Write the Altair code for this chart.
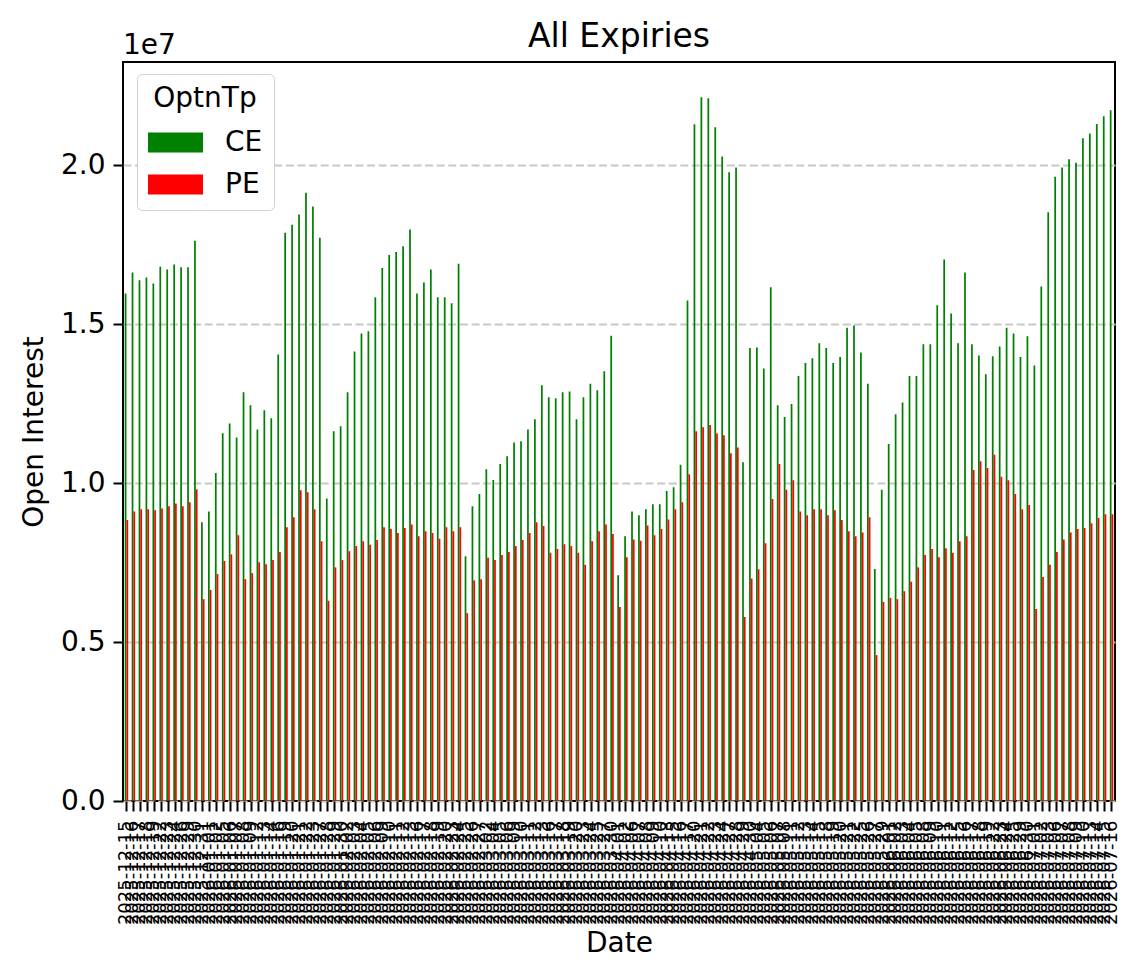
import altair as alt
import pandas as pd

# Trading dates (categories), day numbers per month
dec25 = [15, 16, 17, 18, 19, 22, 23, 24, 26, 29, 30, 31]
jan26 = [1, 2, 5, 6, 7, 8, 9, 12, 13, 14, 16, 19, 20, 21, 22, 23, 27, 28, 29, 30]
feb26 = [2, 3, 4, 5, 6, 9, 10, 11, 12, 13, 16, 17, 18, 19, 20, 23, 24, 25, 26, 27]
mar26 = [2, 4, 5, 6, 9, 10, 11, 12, 13, 16, 17, 18, 19, 20, 23, 24, 25, 27, 30]
apr26 = [1, 2, 6, 7, 8, 9, 10, 13, 15, 16, 17, 20, 21, 22, 23, 24, 27, 28, 29, 30]
may26 = [4, 5, 6, 7, 8, 11, 12, 13, 14, 15, 18, 19, 20, 21, 22, 25, 26, 27, 29]
jun26 = [1, 2, 3, 4, 5, 8, 9, 10, 11, 12, 15, 16, 17, 18, 19, 22, 23, 24, 25, 29, 30]
jul26 = [1, 2, 3, 6, 7, 8, 9, 10, 13, 14, 15, 16]

dates = (
    [f"2025-12-{d:02d}" for d in dec25]
    + [f"2026-01-{d:02d}" for d in jan26]
    + [f"2026-02-{d:02d}" for d in feb26]
    + [f"2026-03-{d:02d}" for d in mar26]
    + [f"2026-04-{d:02d}" for d in apr26]
    + [f"2026-05-{d:02d}" for d in may26]
    + [f"2026-06-{d:02d}" for d in jun26]
    + [f"2026-07-{d:02d}" for d in jul26]
)

# Open interest, in units of 1e7
ce = [
    1.597, 1.663, 1.638, 1.647, 1.628, 1.681, 1.672, 1.688, 1.679, 1.679,
    1.763, 0.877, 0.911, 1.032, 1.157, 1.188, 1.144, 1.286, 1.245, 1.169,
    1.229, 1.204, 1.405, 1.788, 1.813, 1.845, 1.914, 1.870, 1.772, 0.952,
    1.163, 1.179, 1.286, 1.414, 1.471, 1.478, 1.585, 1.677, 1.718, 1.727,
    1.745, 1.798, 1.597, 1.631, 1.672, 1.585, 1.585, 1.566, 1.690, 0.770,
    0.927, 0.966, 1.044, 1.010, 1.060, 1.085, 1.128, 1.132, 1.169, 1.201,
    1.308, 1.270, 1.267, 1.286, 1.288, 1.201, 1.270, 1.313, 1.292, 1.352,
    1.464, 0.710, 0.833, 0.911, 0.899, 0.918, 0.934, 0.934, 0.975, 0.987,
    1.058, 1.575, 2.129, 2.214, 2.211, 2.120, 2.028, 1.978, 1.993, 1.066,
    1.425, 1.427, 1.361, 1.616, 1.245, 1.208, 1.249, 1.337, 1.378, 1.393,
    1.440, 1.425, 1.378, 1.397, 1.489, 1.496, 1.411, 1.313, 0.730, 0.979,
    1.123, 1.217, 1.254, 1.337, 1.337, 1.437, 1.437, 1.560, 1.704, 1.534,
    1.440, 1.663, 1.437, 1.402, 1.343, 1.399, 1.430, 1.489, 1.471, 1.397,
    1.462, 1.370, 1.619, 1.852, 1.964, 1.993, 2.019, 2.008, 2.085, 2.100,
    2.130, 2.154, 2.173,
]
pe = [
    0.884, 0.911, 0.918, 0.918, 0.915, 0.920, 0.927, 0.936, 0.927, 0.940,
    0.981, 0.635, 0.664, 0.714, 0.755, 0.776, 0.836, 0.698, 0.717, 0.751,
    0.745, 0.758, 0.783, 0.861, 0.893, 0.978, 0.971, 0.918, 0.817, 0.630,
    0.735, 0.758, 0.786, 0.802, 0.817, 0.806, 0.821, 0.861, 0.856, 0.843,
    0.859, 0.870, 0.833, 0.849, 0.843, 0.825, 0.861, 0.849, 0.861, 0.591,
    0.694, 0.698, 0.765, 0.758, 0.774, 0.783, 0.802, 0.821, 0.843, 0.877,
    0.865, 0.781, 0.793, 0.808, 0.802, 0.781, 0.743, 0.817, 0.849, 0.870,
    0.840, 0.610, 0.767, 0.823, 0.819, 0.867, 0.836, 0.856, 0.886, 0.918,
    0.940, 1.028, 1.163, 1.176, 1.183, 1.156, 1.151, 1.094, 1.112, 0.579,
    0.700, 0.729, 0.811, 0.950, 1.060, 0.979, 1.009, 0.911, 0.899, 0.918,
    0.918, 0.899, 0.915, 0.884, 0.849, 0.833, 0.845, 0.893, 0.459, 0.626,
    0.639, 0.635, 0.660, 0.690, 0.735, 0.774, 0.793, 0.767, 0.795, 0.781,
    0.817, 0.833, 1.041, 1.069, 1.048, 1.089, 1.020, 1.009, 0.966, 0.918,
    0.931, 0.604, 0.705, 0.743, 0.783, 0.823, 0.845, 0.856, 0.859, 0.874,
    0.890, 0.902, 0.902,
]

types = ["CE", "PE"]
colors = ["#008000", "#ff0000"]
y_ticks = [0, 5e6, 1e7, 1.5e7, 2e7]

rows = []
for d, c, p in zip(dates, ce, pe):
    rows.append({"Date": d, "OptnTp": "CE", "OI": c * 1e7})
    rows.append({"Date": d, "OptnTp": "PE", "OI": p * 1e7})
df = pd.DataFrame(rows)

FONT = "DejaVu Sans"

bars = alt.Chart(df).mark_bar().encode(
    x=alt.X(
        "Date:N",
        sort=dates,
        scale=alt.Scale(paddingInner=0.5, paddingOuter=0.25),
        axis=alt.Axis(
            title="Date",
            labelAngle=270,
            labelFontSize=18,
            labelOverlap=False,
            labelPadding=9,
            tickSize=10,
            tickWidth=2,
            tickColor="black",
            domain=False,
            grid=False,
            titleFontSize=28,
            titleFontWeight="normal",
            titlePadding=5,
            labelColor="black",
            titleColor="black",
        ),
    ),
    xOffset=alt.XOffset(
        "OptnTp:N", sort=types, scale=alt.Scale(paddingInner=0, paddingOuter=0)
    ),
    y=alt.Y(
        "OI:Q",
        scale=alt.Scale(domain=[0, 2.325e7], nice=False, zero=True),
        axis=alt.Axis(
            title="Open Interest",
            values=y_ticks,
            labelExpr="format(datum.value / 1e7, '.1f')",
            grid=True,
            gridDash=[8, 3.6],
            gridColor="#c8c8c8",
            gridWidth=1.8,
            tickSize=10,
            tickWidth=2,
            tickColor="black",
            domain=False,
            labelFontSize=28,
            labelPadding=8,
            titleFontSize=28,
            titleFontWeight="normal",
            titlePadding=12,
            labelColor="black",
            titleColor="black",
        ),
    ),
    color=alt.Color(
        "OptnTp:N",
        sort=types,
        scale=alt.Scale(domain=types, range=colors),
        legend=alt.Legend(
            title="OptnTp",
            orient="none",
            legendX=14,
            legendY=12,
            titleFontSize=28,
            titleFontWeight="normal",
            titleAnchor="middle",
            titleColor="black",
            labelFontSize=28,
            labelColor="black",
            symbolType="M-1,-0.36L1,-0.36L1,0.36L-1,0.36Z",
            symbolSize=3025,
            symbolStrokeWidth=0,
            symbolOpacity=1,
            labelOffset=22,
            rowPadding=-1,
            titlePadding=2,
            padding=11,
            fillColor="white",
            strokeColor="#d0d0d0",
            cornerRadius=5,
        ),
    ),
)

offset_text = alt.Chart(pd.DataFrame({"t": ["1e7"]})).mark_text(
    align="left", baseline="alphabetic", fontSize=28, font=FONT, color="black"
).encode(x=alt.value(0), y=alt.value(-8), text="t:N")

chart = (
    alt.layer(bars, offset_text)
    .properties(
        width=992,
        height=739,
        title=alt.Title(
            "All Expiries",
            fontSize=33,
            fontWeight="normal",
            font=FONT,
            color="black",
            anchor="middle",
            offset=-22,
        ),
        autosize=alt.AutoSizeParams(type="none"),
        padding={"left": 123, "top": 62, "right": 25, "bottom": 175},
    )
    .configure(font=FONT)
    .configure_view(stroke="black", strokeWidth=2)
)

chart.save("out.html", embed_options={"renderer": "svg", "actions": False})
